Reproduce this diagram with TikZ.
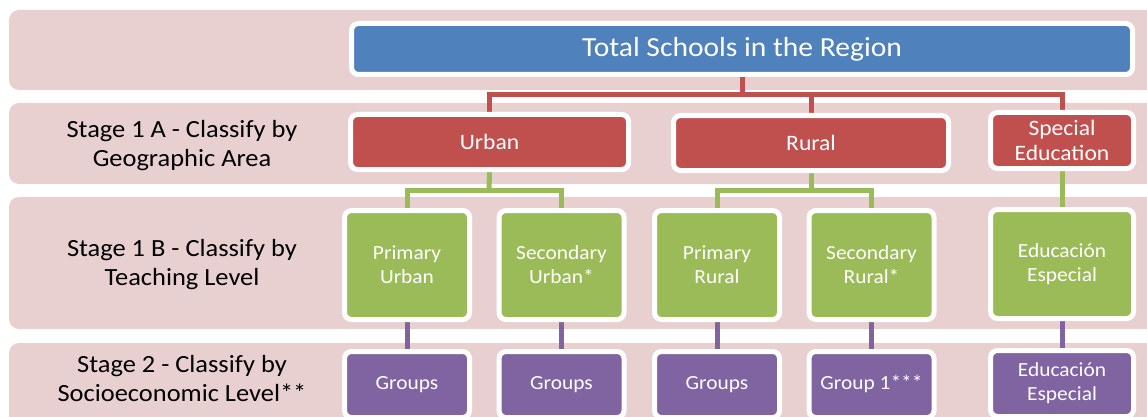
\documentclass[tikz,border=0pt]{standalone}
\usepackage{fontspec}
\setmainfont{Carlito}[FakeStretch=1.07]
\definecolor{band}{HTML}{E8D0D1}
\definecolor{cblue}{HTML}{4F81BD}
\definecolor{cred}{HTML}{C0504D}
\definecolor{cgreen}{HTML}{9BBB59}
\definecolor{cpurple}{HTML}{8064A2}
\pgfdeclarelayer{bg}
\pgfdeclarelayer{lines}
\pgfsetlayers{bg,lines,main}
\tikzset{
  box/.style={draw=white, line width=5pt, rounded corners=7pt, inner sep=0pt, text=white, align=center},
  bluebox/.style={box, fill=cblue, minimum width=781pt, minimum height=51pt, font=\fontsize{27.6}{32}\selectfont},
  redbox/.style={box, fill=cred, minimum height=55pt, font=\fontsize{22}{25}\selectfont},
  greenbox/.style={box, fill=cgreen, minimum width=125pt, minimum height=109pt, font=\fontsize{20}{24}\selectfont},
  purplebox/.style={box, fill=cpurple, minimum width=125pt, minimum height=66pt, font=\fontsize{20}{24}\selectfont},
  stagelabel/.style={align=center, text=black, inner sep=0pt, font=\fontsize{24.7}{29}\selectfont},
  conn/.style={line width=5pt},
  bandstyle/.style={fill=band, rounded corners=10pt},
}
\begin{document}
\begin{tikzpicture}[x=1pt, y=-1pt]
\useasboundingbox (0,0) rectangle (1147,417);
\clip (0,0) rectangle (1147,417);
% nodes
\node[bluebox] (top) at (742,49) {Total Schools in the Region};
\node[redbox, minimum width=278pt] (urban) at (489.5,142) {Urban};
\node[redbox, minimum width=275pt] (rural) at (811,143) {Rural};
\node[redbox, minimum width=143pt, minimum height=56pt] (special) at (1062,140.5) {Special\\Education};
\node[greenbox] (pu) at (407,265) {Primary\\Urban};
\node[greenbox] (su) at (561.5,265) {Secondary\\Urban*};
\node[greenbox] (pr) at (717,265) {Primary\\Rural};
\node[greenbox] (sr) at (871.5,265) {Secondary\\Rural*};
\node[greenbox, minimum width=143pt] (ee) at (1062,264) {Educación\\Especial};
\node[purplebox] (gpu) at (407,384.5) {Groups};
\node[purplebox] (gsu) at (561.5,384.5) {Groups};
\node[purplebox] (gpr) at (717,384.5) {Groups};
\node[purplebox] (gsr) at (871.5,384.5) {Group 1***};
\node[purplebox, minimum width=143pt] (gee) at (1062,383.5) {Educación\\Especial};
\node[stagelabel] (s1a) at (182,145.5) {Stage 1 A - Classify by\\Geographic Area};
\node[stagelabel] (s1b) at (182,265) {Stage 1 B - Classify by\\Teaching Level};
\node[stagelabel] (s2) at (182,378.5) {Stage 2 - Classify by\\Socioeconomic Level**};
\coordinate (jr) at (742,95);
\coordinate (jgu) at (489,190);
\coordinate (jgr) at (811,190);
% connectors
\begin{pgfonlayer}{lines}
\draw[conn, cred] (top.south) -- (jr);
\draw[conn, cred] (urban.north) -- (urban.north |- jr) -- (special.north |- jr) -- (special.north);
\draw[conn, cred] (rural.north) -- (rural.north |- jr);
\draw[conn, cgreen] (urban.south) -- (jgu);
\draw[conn, cgreen] (pu.north) -- (pu.north |- jgu) -- (su.north |- jgu) -- (su.north);
\draw[conn, cgreen] (rural.south) -- (jgr);
\draw[conn, cgreen] (pr.north) -- (pr.north |- jgr) -- (sr.north |- jgr) -- (sr.north);
\draw[conn, cgreen] (special.south) -- (ee.north);
\draw[conn, cpurple] (pu.south) -- (gpu.north);
\draw[conn, cpurple] (su.south) -- (gsu.north);
\draw[conn, cpurple] (pr.south) -- (gpr.north);
\draw[conn, cpurple] (sr.south) -- (gsr.north);
\draw[conn, cpurple] (ee.south) -- (gee.north);
\end{pgfonlayer}
\begin{pgfonlayer}{bg}
\fill[white] (0,0) rectangle (1147,417);
\fill[bandstyle] (9,10) rectangle (1170,90);
\fill[bandstyle] (9,103) rectangle (1170,184);
\fill[bandstyle] (9,197) rectangle (1170,329);
\fill[bandstyle] (9,343) rectangle (1170,440);
\end{pgfonlayer}
\end{tikzpicture}
\end{document}
